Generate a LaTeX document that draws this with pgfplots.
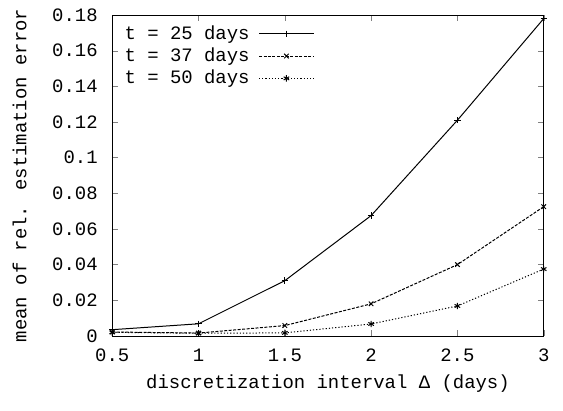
\documentclass[border=0pt]{standalone}
\usepackage{fontspec}
\setmainfont{Liberation Mono}
\usepackage{pgfplots}
\pgfplotsset{compat=1.18}
\begin{document}
\begin{tikzpicture}[font=\fontsize{9.5}{11}\selectfont]
\begin{axis}[
  scale only axis, width=216.5pt, height=161pt,
  xmin=0.5, xmax=3, ymin=0, ymax=0.18,
  xtick={0.5,1,1.5,2,2.5,3},
  ytick={0,0.02,0.04,0.06,0.08,0.1,0.12,0.14,0.16,0.18},
  tick align=inside, major tick length=3pt,
  xtick pos=both, ytick pos=both,
  /pgf/number format/assume math mode=true,
  scaled y ticks=false,
  yticklabel style={/pgf/number format/fixed, /pgf/number format/precision=2, xshift=-3.8pt},
  xticklabel style={/pgf/number format/fixed, yshift=-3pt},
  xlabel={discretization interval Δ (days)},
  ylabel={mean of rel. estimation error},
  xlabel style={at={(axis description cs:0.5,0)}, anchor=center, yshift=-24pt},
  ylabel style={at={(axis description cs:0,0.5)}, anchor=center, xshift=0pt, yshift=46.5pt},
  legend style={draw=none, fill=none, at={(0,1)}, anchor=north west, xshift=1pt, yshift=-1pt,
     legend cell align=left, row sep=-1.2pt, column sep=2.5pt},
  legend plot pos=right,
  legend image code/.code={\draw[mark repeat=2, mark phase=2, #1] plot coordinates {(0pt,0pt) (13.75pt,0pt) (27.5pt,0pt)};},
  every axis plot/.append style={black, line width=0.5pt, mark size=1.6pt, mark options={solid}},
]
\addplot[mark=+] coordinates {(0.5,0.0035) (1,0.0068) (1.5,0.031) (2,0.0675) (2.5,0.121) (3,0.178)};
\addlegendentry{t = 25 days}
\addplot[mark=x, dash pattern=on 1.5pt off 0.75pt] coordinates {(0.5,0.0022) (1,0.0016) (1.5,0.0058) (2,0.018) (2.5,0.040) (3,0.0725)};
\addlegendentry{t = 37 days}
\addplot[mark=asterisk, dash pattern=on 0.6pt off 1pt] coordinates {(0.5,0.002) (1,0.0015) (1.5,0.0017) (2,0.0067) (2.5,0.0168) (3,0.0375)};
\addlegendentry{t = 50 days}
\end{axis}
\path (current bounding box.south west) ++(-3pt,-5.5pt);
\path (current bounding box.north east) ++(3.5pt,1pt);
\end{tikzpicture}
\end{document}
